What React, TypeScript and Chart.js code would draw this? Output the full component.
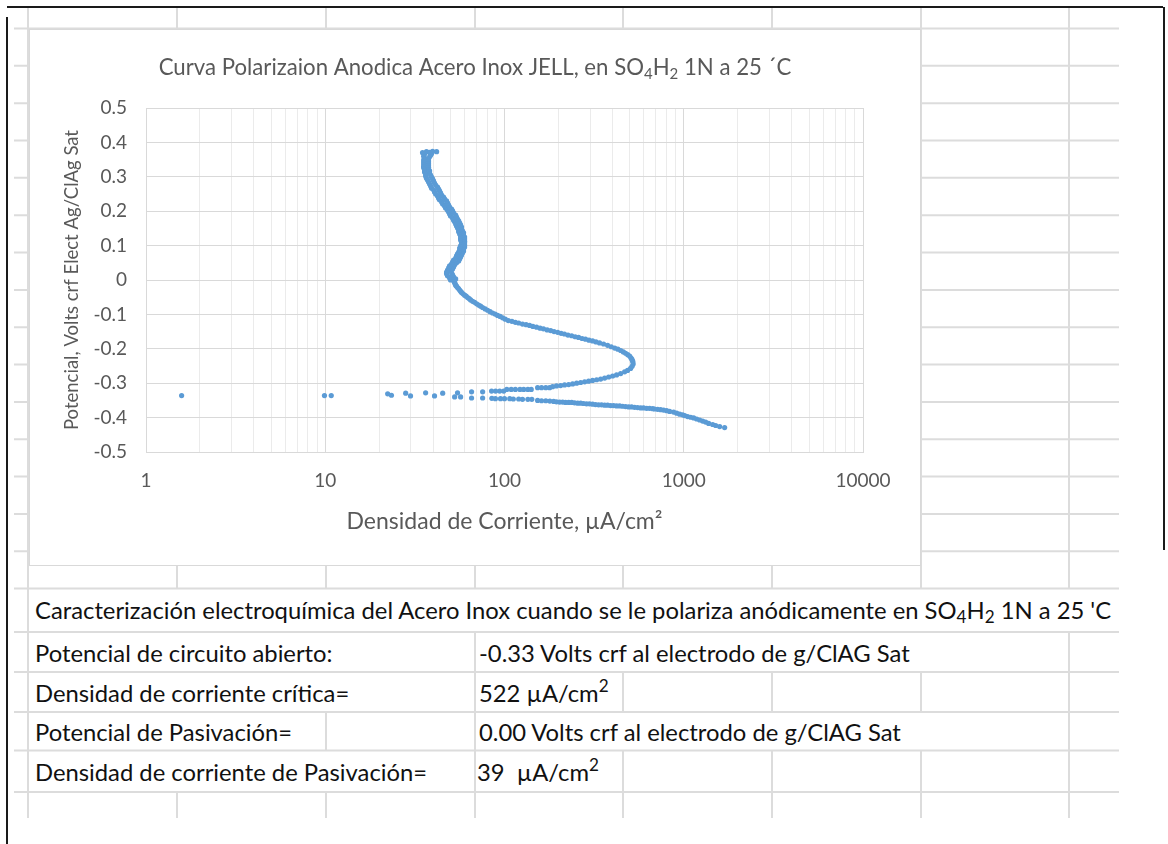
import React, { useEffect, useRef } from "react";
import { Chart, registerables } from "chart.js";

Chart.register(...registerables);

// Rama catódica: de -0.43 V hasta el entorno del potencial de circuito abierto
const iCatodica = [1691, 1586, 1507, 1450, 1377, 1325, 1275, 1227, 1181, 1136, 1093, 1051, 1012, 986, 949, 913, 878, 834, 803, 772, 743, 715, 688, 671, 645, 621, 597, 575, 553, 532, 512, 493, 474, 456, 439, 422, 406, 391, 376, 362, 348, 335, 322, 310, 298, 287, 276, 266, 256, 246, 237, 228, 219, 211, 203, 195, 188, 179, 170, 161, 153, 142, 135, 126, 120, 112, 107, 100, 95, 89, 85, 75.5, 65.5, 56.9, 52.7];
const eCatodica = [-0.429, -0.426, -0.423, -0.42, -0.417, -0.413, -0.41, -0.407, -0.404, -0.401, -0.399, -0.397, -0.394, -0.392, -0.39, -0.387, -0.384, -0.382, -0.38, -0.378, -0.377, -0.376, -0.375, -0.374, -0.373, -0.373, -0.372, -0.372, -0.371, -0.37, -0.369, -0.369, -0.368, -0.367, -0.366, -0.366, -0.365, -0.365, -0.364, -0.364, -0.363, -0.363, -0.362, -0.361, -0.36, -0.36, -0.359, -0.358, -0.358, -0.357, -0.356, -0.356, -0.356, -0.355, -0.355, -0.354, -0.353, -0.352, -0.351, -0.351, -0.35, -0.347, -0.347, -0.347, -0.346, -0.346, -0.345, -0.345, -0.345, -0.345, -0.344, -0.343, -0.343, -0.34, -0.34];

// Puntos dispersos alrededor del potencial de circuito abierto
const iCircuitoAbierto = [1.58, 9.9, 10.8, 22.3, 23.4, 28.1, 29.9, 36.3, 40.7, 45.2, 54.7];
const eCircuitoAbierto = [-0.336, -0.336, -0.336, -0.331, -0.335, -0.329, -0.337, -0.328, -0.337, -0.329, -0.328];

// Zona activa: subida hasta la densidad de corriente crítica
const iActiva = [65.5, 75.5, 84.7, 89.2, 94, 99, 103, 109, 115, 122, 128, 135, 141, 153, 161, 170, 178.5, 185.5, 195, 205.6, 216.4, 228, 240, 252.6, 266, 280, 294.6, 310, 326.6, 343.9, 362, 381, 401, 422, 444.6, 468, 486, 505, 515, 522];
const eActiva = [-0.325, -0.325, -0.323, -0.323, -0.323, -0.323, -0.318, -0.318, -0.318, -0.318, -0.318, -0.318, -0.318, -0.313, -0.313, -0.313, -0.313, -0.31, -0.308, -0.307, -0.305, -0.304, -0.302, -0.3, -0.298, -0.296, -0.294, -0.292, -0.29, -0.288, -0.285, -0.282, -0.279, -0.276, -0.272, -0.267, -0.263, -0.257, -0.251, -0.244];

// Transición activo-pasiva: caída de corriente hasta 0 V
const iTransicion = [520, 517, 513, 507, 499, 487, 474, 460, 445, 429, 412, 394, 376, 357, 339, 324, 310, 296, 283, 271, 259, 248, 237, 226, 216, 207, 198, 189, 181, 173, 165, 158, 151, 144, 138, 132, 126, 120, 115, 110, 105, 101, 97.6, 94.5, 91.5, 88.6, 85.8, 83.1, 80.5, 78, 75.5, 73.6, 71.7, 69.9, 68.1, 66.4, 64.7, 63.5, 62.3, 61.1, 59.9, 58.7, 57.6, 56.9, 56.2, 55.4, 54.7, 54.0, 53.4, 53.0, 52.7, 52.3];
const eTransicion = [-0.237, -0.234, -0.23, -0.226, -0.221, -0.217, -0.213, -0.209, -0.205, -0.201, -0.198, -0.194, -0.19, -0.186, -0.183, -0.18, -0.177, -0.175, -0.172, -0.17, -0.167, -0.165, -0.162, -0.16, -0.157, -0.155, -0.152, -0.15, -0.147, -0.145, -0.142, -0.14, -0.137, -0.135, -0.132, -0.13, -0.128, -0.125, -0.123, -0.12, -0.118, -0.114, -0.11, -0.106, -0.103, -0.099, -0.096, -0.092, -0.088, -0.084, -0.08, -0.076, -0.073, -0.069, -0.065, -0.062, -0.058, -0.054, -0.051, -0.047, -0.044, -0.04, -0.036, -0.033, -0.029, -0.025, -0.022, -0.018, -0.015, -0.011, -0.007, -0.004];

// Zona pasiva: de 0 V a 0.37 V
const iPasiva = [50.0, 53.4, 49.4, 52.0, 48.1, 51.3, 47.5, 50.7, 47.5, 50.0, 48.1, 51.3, 48.8, 52.0, 49.4, 52.7, 50.7, 54.0, 51.3, 55.5, 52.0, 56.2, 53.4, 56.9, 54.0, 57.6, 54.7, 58.4, 55.5, 59.1, 56.2, 59.1, 56.2, 59.9, 56.9, 59.9, 57.6, 59.9, 57.6, 59.9, 56.9, 59.9, 56.9, 59.9, 56.9, 59.1, 56.2, 59.1, 55.5, 58.4, 55.5, 57.6, 54.7, 57.6, 54.0, 56.9, 53.4, 56.2, 52.7, 55.5, 52.0, 54.7, 51.3, 54.0, 50.0, 53.4, 49.4, 52.0, 48.8, 51.3, 48.1, 50.7, 46.9, 49.4, 46.3, 48.8, 45.2, 48.1, 44.6, 47.5, 43.4, 46.3, 42.9, 45.7, 42.3, 44.6, 41.3, 44.0, 40.7, 43.4, 40.2, 42.9, 39.2, 42.3, 38.7, 41.3, 38.2, 40.7, 37.7, 40.2, 37.2, 39.7, 36.7, 39.2, 36.3, 38.7, 36.3, 38.2, 35.8, 38.2, 35.8, 37.7, 35.4, 37.7, 35.4, 37.7, 35.4, 37.7, 35.4, 37.7, 35.4, 37.7, 35.8, 38.2, 35.4, 38.7, 35.8, 39.2, 34.9, 36.7, 38.2, 39.7, 41.8];
const ePasiva = [0.0, 0.003, 0.006, 0.009, 0.012, 0.015, 0.018, 0.021, 0.023, 0.026, 0.029, 0.032, 0.035, 0.038, 0.041, 0.044, 0.047, 0.05, 0.052, 0.055, 0.058, 0.061, 0.064, 0.067, 0.07, 0.073, 0.076, 0.079, 0.081, 0.084, 0.087, 0.09, 0.093, 0.096, 0.099, 0.102, 0.105, 0.108, 0.11, 0.113, 0.116, 0.119, 0.122, 0.125, 0.128, 0.131, 0.134, 0.137, 0.14, 0.142, 0.145, 0.148, 0.151, 0.154, 0.157, 0.16, 0.163, 0.166, 0.169, 0.172, 0.174, 0.177, 0.18, 0.183, 0.186, 0.189, 0.192, 0.195, 0.198, 0.201, 0.203, 0.206, 0.209, 0.212, 0.215, 0.218, 0.221, 0.224, 0.227, 0.23, 0.233, 0.236, 0.238, 0.241, 0.244, 0.247, 0.25, 0.253, 0.256, 0.259, 0.262, 0.264, 0.267, 0.27, 0.273, 0.276, 0.279, 0.282, 0.285, 0.288, 0.291, 0.294, 0.296, 0.299, 0.302, 0.305, 0.308, 0.311, 0.314, 0.317, 0.32, 0.323, 0.326, 0.328, 0.331, 0.334, 0.337, 0.34, 0.343, 0.346, 0.349, 0.352, 0.355, 0.358, 0.36, 0.363, 0.366, 0.368, 0.37, 0.373, 0.371, 0.374, 0.373];

// Textos
const tituloPartes: { t: string; sub: boolean }[] = [
  { t: "Curva Polarizaion Anodica Acero Inox JELL, en SO", sub: false },
  { t: "4", sub: true },
  { t: "H", sub: false },
  { t: "2", sub: true },
  { t: " 1N a 25 \u00B4C", sub: false },
];
const tituloX = "Densidad de Corriente, \u00B5A/cm\u00B2";
const tituloY = "Potencial, Volts crf Elect Ag/ClAg Sat";
const etiquetas = [
  "Potencial de circuito abierto:",
  "Densidad de corriente cr\u00EDtica=",
  "Potencial de Pasivaci\u00F3n=",
  "Densidad de corriente de Pasivaci\u00F3n=",
];
const valores = [
  "-0.33 Volts crf al electrodo de g/ClAG Sat",
  "522 \u00B5A/cm",
  "0.00 Volts crf al electrodo de g/ClAG Sat",
  "39  \u00B5A/cm",
];
const valorConCuadrado = [false, true, false, true];

const AZUL = "#5b9bd5";
const GRIS_TEXTO = "#595959";
const FUENTE = "Lato";

const esDecada = (v: number) => {
  if (!(v > 0)) return false;
  const l = Math.log10(v);
  return Math.abs(l - Math.round(l)) < 1e-9;
};

const tituloPlugin = {
  id: "tituloCurva",
  afterDraw(chart: any) {
    const { ctx, width } = chart;
    const size = 22.2;
    const fNormal = `${size}px ${FUENTE}`;
    const fSub = `${Math.round(size * 0.68)}px ${FUENTE}`;
    ctx.save();
    let total = 0;
    const anchos = tituloPartes.map((p) => {
      ctx.font = p.sub ? fSub : fNormal;
      const w = ctx.measureText(p.t).width;
      total += w;
      return w;
    });
    let x = width / 2 - total / 2;
    const y = 45;
    ctx.fillStyle = GRIS_TEXTO;
    ctx.textBaseline = "alphabetic";
    tituloPartes.forEach((p, k) => {
      ctx.font = p.sub ? fSub : fNormal;
      ctx.fillText(p.t, x, p.sub ? y + 4 : y);
      x += anchos[k];
    });
    ctx.restore();
  },
};

// Cuadrícula de la hoja de cálculo
const COLS = [28, 177, 326, 475, 623, 772, 921, 1069];
const filasHoja = Array.from({ length: 16 }, (_, k) => 28.5 + 37.34 * k);
const filasTabla = [632, 672, 712, 750.5, 792];
const verticalesTabla: { y1: number; y2: number; xs: number[] }[] = [
  { y1: 632, y2: 672, xs: [475, 1069] },
  { y1: 672, y2: 712, xs: [475, 623, 772, 921, 1069] },
  { y1: 712, y2: 750.5, xs: [326, 475, 1069] },
  { y1: 750.5, y2: 792, xs: [475, 623, 772, 921, 1069] },
  { y1: 792, y2: 818, xs: [177, 326, 475, 623, 772, 921, 1069] },
];
const filasTexto = [
  { top: 632, h: 40 },
  { top: 672, h: 40 },
  { top: 712, h: 38.5 },
  { top: 750.5, h: 41.5 },
];

export default function App() {
  const canvasRef = useRef<HTMLCanvasElement | null>(null);

  useEffect(() => {
    if (!canvasRef.current) return;
    const series: [number[], number[]][] = [
      [iCatodica, eCatodica],
      [iCircuitoAbierto, eCircuitoAbierto],
      [iActiva, eActiva],
      [iTransicion, eTransicion],
      [iPasiva, ePasiva],
    ];
    const puntos = series.flatMap(([xs, ys]) => xs.map((x, k) => ({ x, y: ys[k] })));

    const chart = new Chart(canvasRef.current, {
      type: "scatter",
      data: {
        datasets: [
          {
            data: puntos,
            backgroundColor: AZUL,
            borderColor: AZUL,
            borderWidth: 0,
            pointRadius: 2.6,
            pointHoverRadius: 2.6,
            showLine: false,
          },
        ],
      },
      options: {
        responsive: false,
        animation: false,
        events: [],
        layout: { padding: { top: 78, right: 57, bottom: 0, left: 0 } },
        plugins: {
          legend: { display: false },
          title: { display: false },
          tooltip: { enabled: false },
        },
        scales: {
          x: {
            type: "logarithmic",
            position: "bottom",
            min: 1,
            max: 10000,
            afterBuildTicks: (scale: any) => {
              scale.ticks = scale.ticks.filter((t: any) => {
                const e = Math.floor(Math.log10(t.value) + 1e-9);
                const m = t.value / Math.pow(10, e);
                return Math.abs(m - Math.round(m)) < 1e-6;
              });
            },
            afterFit: (scale: any) => {
              scale.height = 113;
            },
            ticks: {
              autoSkip: false,
              maxRotation: 0,
              minRotation: 0,
              padding: 17,
              color: GRIS_TEXTO,
              font: { family: FUENTE, size: 19 },
              callback: (v: any) => (esDecada(Number(v)) ? String(Number(v)) : ""),
            },
            grid: {
              drawTicks: false,
              lineWidth: 1,
              color: (c: any) => (c.tick && esDecada(c.tick.value) ? "#d9d9d9" : "#ebebeb"),
            },
            border: { display: true, color: "#d9d9d9" },
            title: {
              display: true,
              text: tituloX,
              color: GRIS_TEXTO,
              font: { family: FUENTE, size: 23 },
              padding: { top: 0, bottom: 30 },
            },
          },
          y: {
            type: "linear",
            min: -0.5,
            max: 0.5,
            afterFit: (scale: any) => {
              scale.width = 116;
            },
            ticks: {
              stepSize: 0.1,
              padding: 19,
              color: GRIS_TEXTO,
              font: { family: FUENTE, size: 19 },
              callback: (v: any) => (Math.abs(Number(v)) < 1e-9 ? "0" : Number(v).toFixed(1)),
            },
            grid: { drawTicks: false, lineWidth: 1, color: "#d9d9d9" },
            border: { display: true, color: "#d9d9d9" },
            title: {
              display: true,
              text: tituloY,
              color: GRIS_TEXTO,
              font: { family: FUENTE, size: 18.5 },
              padding: { top: 31, bottom: 0 },
            },
          },
        },
      },
      plugins: [tituloPlugin],
    } as any);
    return () => chart.destroy();
  }, []);

  const linea = "#dcdcdc";
  const textoTabla: React.CSSProperties = {
    position: "absolute",
    whiteSpace: "pre",
    fontFamily: FUENTE,
    fontSize: 23.8,
    color: "#111",
  };
  const sup = { fontSize: "0.72em", verticalAlign: "0.6em", lineHeight: 0 } as React.CSSProperties;
  const sub = { fontSize: "0.72em", verticalAlign: "-0.22em", lineHeight: 0 } as React.CSSProperties;

  return (
    <div
      style={{
        position: "absolute",
        left: 0,
        top: 0,
        width: 1168,
        height: 844,
        overflow: "hidden",
        background: "#ffffff",
      }}
    >
      <svg width={1168} height={844} style={{ position: "absolute", left: 0, top: 0 }}>
        {filasHoja.concat(filasTabla).map((y, k) => (
          <line key={"h" + k} x1={14} x2={1119} y1={y} y2={y} stroke={linea} strokeWidth={2} />
        ))}
        <line x1={28} x2={28} y1={8} y2={818} stroke={linea} strokeWidth={2} />
        {COLS.slice(1).map((x, k) => (
          <line key={"v" + k} x1={x} x2={x} y1={8} y2={filasHoja[15]} stroke={linea} strokeWidth={2} />
        ))}
        {verticalesTabla.map((f, k) =>
          f.xs.map((x, j) => (
            <line key={"t" + k + "-" + j} x1={x} x2={x} y1={f.y1} y2={f.y2} stroke={linea} strokeWidth={2} />
          ))
        )}
        <rect x={7} y={6} width={1156} height={2} fill="#1a1a1a" />
        <rect x={6} y={17} width={2} height={827} fill="#1a1a1a" />
        <rect x={1163} y={7} width={2} height={543} fill="#1a1a1a" />
      </svg>

      <div
        style={{
          position: "absolute",
          left: 29,
          top: 29,
          width: 890,
          height: 535,
          border: "1px solid #d9d9d9",
          background: "#ffffff",
        }}
      >
        <canvas ref={canvasRef} width={890} height={535} style={{ display: "block" }} />
      </div>

      <div style={{ ...textoTabla, left: 35, top: 589, height: 42, lineHeight: "42px" }}>
        Caracterizaci&oacute;n electroqu&iacute;mica del Acero Inox cuando se le polariza an&oacute;dicamente en SO
        <span style={sub}>4</span>H<span style={sub}>2</span> 1N a 25 'C
      </div>

      {etiquetas.map((t, k) => (
        <div
          key={"e" + k}
          style={{ ...textoTabla, left: 35, top: filasTexto[k].top + 1, height: filasTexto[k].h, lineHeight: filasTexto[k].h + "px" }}
        >
          {t}
        </div>
      ))}
      {valores.map((t, k) => (
        <div
          key={"v" + k}
          style={{
            ...textoTabla,
            left: k === 3 ? 477 : 479,
            top: filasTexto[k].top + 1,
            height: filasTexto[k].h,
            lineHeight: filasTexto[k].h + "px",
          }}
        >
          {t}
          {valorConCuadrado[k] ? <span style={sup}>2</span> : null}
        </div>
      ))}
    </div>
  );
}
